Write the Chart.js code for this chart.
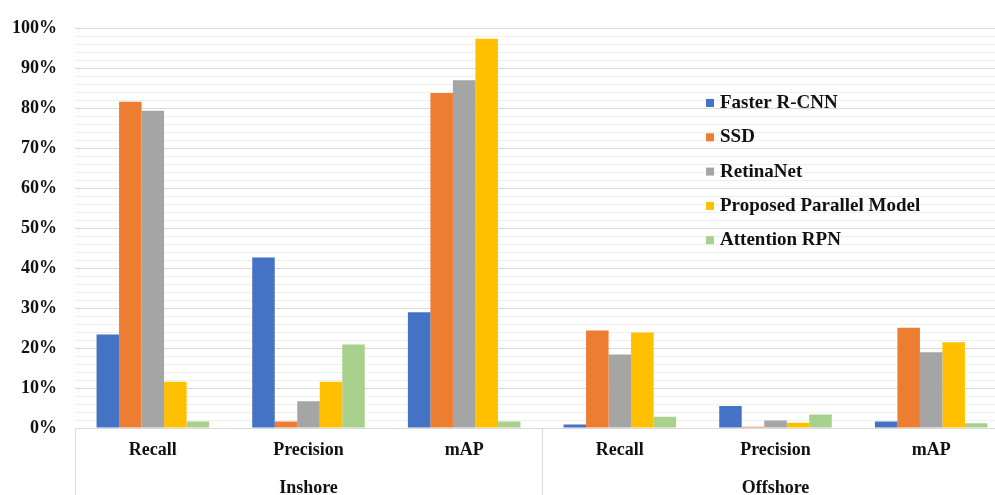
<!DOCTYPE html>
<html>
<head>
<meta charset="utf-8">
<script src="https://cdn.jsdelivr.net/npm/chart.js@4"></script>
<style>
  html, body { margin: 0; padding: 0; background: #fff; overflow: hidden; }
  #wrap { width: 1009px; height: 495px; }
</style>
</head>
<body>
<div id="wrap"><canvas id="chart" width="1009" height="495"></canvas></div>
<script>
// data
const metrics = ["Recall", "Precision", "mAP", "Recall", "Precision", "mAP"];
const groups = ["Inshore", "Offshore"];
const models = ["Faster R-CNN", "SSD", "RetinaNet", "Proposed Parallel Model", "Attention RPN"];
const colors = ["#4472C4", "#ED7D31", "#A5A5A5", "#FFC000", "#A9D18E"];

const fasterRcnn = [23.4, 42.7, 29.0, 0.9, 5.5, 1.6];
const ssd        = [81.7, 1.6, 83.9, 24.4, 0.3, 25.1];
const retinaNet  = [79.5, 6.7, 87.1, 18.4, 1.9, 19.0];
const proposed   = [11.6, 11.6, 97.5, 23.9, 1.3, 21.5];
const attnRpn    = [1.6, 20.9, 1.6, 2.8, 3.4, 1.2];

const series = [fasterRcnn, ssd, retinaNet, proposed, attnRpn];

const FONT = '"Liberation Serif", "Times New Roman", serif';
const TXT = "#111";

// legend drawn inside the plot area, like the original
const innerLegend = {
  id: "innerLegend",
  afterDraw(chart) {
    const ctx = chart.ctx;
    ctx.save();
    ctx.font = "bold 19px " + FONT;
    ctx.textBaseline = "middle";
    ctx.textAlign = "left";
    chart.data.datasets.forEach((ds, i) => {
      const y = 103 + i * 34.3;
      ctx.fillStyle = ds.backgroundColor;
      ctx.fillRect(706, y - 4, 8, 8);
      ctx.fillStyle = TXT;
      ctx.fillText(ds.label, 720, y);
    });
    ctx.restore();
  }
};

// group labels + separators under the category labels
const groupAxis = {
  id: "groupAxis",
  afterDraw(chart) {
    const ctx = chart.ctx;
    const x = chart.scales.x;
    const top = chart.chartArea.bottom;
    const bottom = chart.height;
    const per = metrics.length / groups.length;
    const edges = [];
    for (let g = 0; g <= groups.length; g++) {
      if (g === 0) edges.push(x.left);
      else if (g === groups.length) edges.push(x.right);
      else edges.push((x.getPixelForValue(g * per - 1) + x.getPixelForValue(g * per)) / 2);
    }
    ctx.save();
    ctx.strokeStyle = "#d9d9d9";
    ctx.lineWidth = 1;
    edges.forEach((ex) => {
      const px = Math.round(ex) + 0.5;
      ctx.beginPath();
      ctx.moveTo(px, top);
      ctx.lineTo(px, bottom);
      ctx.stroke();
    });
    ctx.font = "bold 18px " + FONT;
    ctx.fillStyle = TXT;
    ctx.textAlign = "center";
    ctx.textBaseline = "middle";
    groups.forEach((name, g) => {
      ctx.fillText(name, (edges[g] + edges[g + 1]) / 2, 488);
    });
    ctx.restore();
  }
};

new Chart(document.getElementById("chart"), {
  type: "bar",
  data: {
    labels: metrics,
    datasets: models.map((m, i) => ({
      label: m,
      data: series[i],
      backgroundColor: colors[i],
      borderWidth: 0,
      categoryPercentage: 0.723,
      barPercentage: 1.0
    }))
  },
  options: {
    responsive: false,
    animation: false,
    layout: { padding: { top: 23, right: 0, left: 0, bottom: 0 } },
    plugins: {
      legend: { display: false },
      tooltip: { enabled: false }
    },
    scales: {
      x: {
        grid: { display: false, drawTicks: false },
        border: { display: false },
        ticks: {
          color: TXT,
          font: { family: FONT, size: 18, weight: "bold" },
          padding: 12,
          maxRotation: 0,
          autoSkip: false
        },
        afterFit(scale) { scale.height = 67; }
      },
      y: {
        min: 0,
        max: 100,
        border: { display: false },
        grid: {
          drawTicks: false,
          color: (c) => (c.tick && c.tick.value % 10 === 0 ? "#d9d9d9" : "#efefef"),
          lineWidth: 1
        },
        ticks: {
          stepSize: 2,
          autoSkip: false,
          padding: 18,
          color: TXT,
          font: { family: FONT, size: 18, weight: "bold" },
          callback: (v) => (v % 10 === 0 ? v + "%" : "")
        },
        afterFit(scale) { scale.width = 75; }
      }
    }
  },
  plugins: [innerLegend, groupAxis]
});
</script>
</body>
</html>
